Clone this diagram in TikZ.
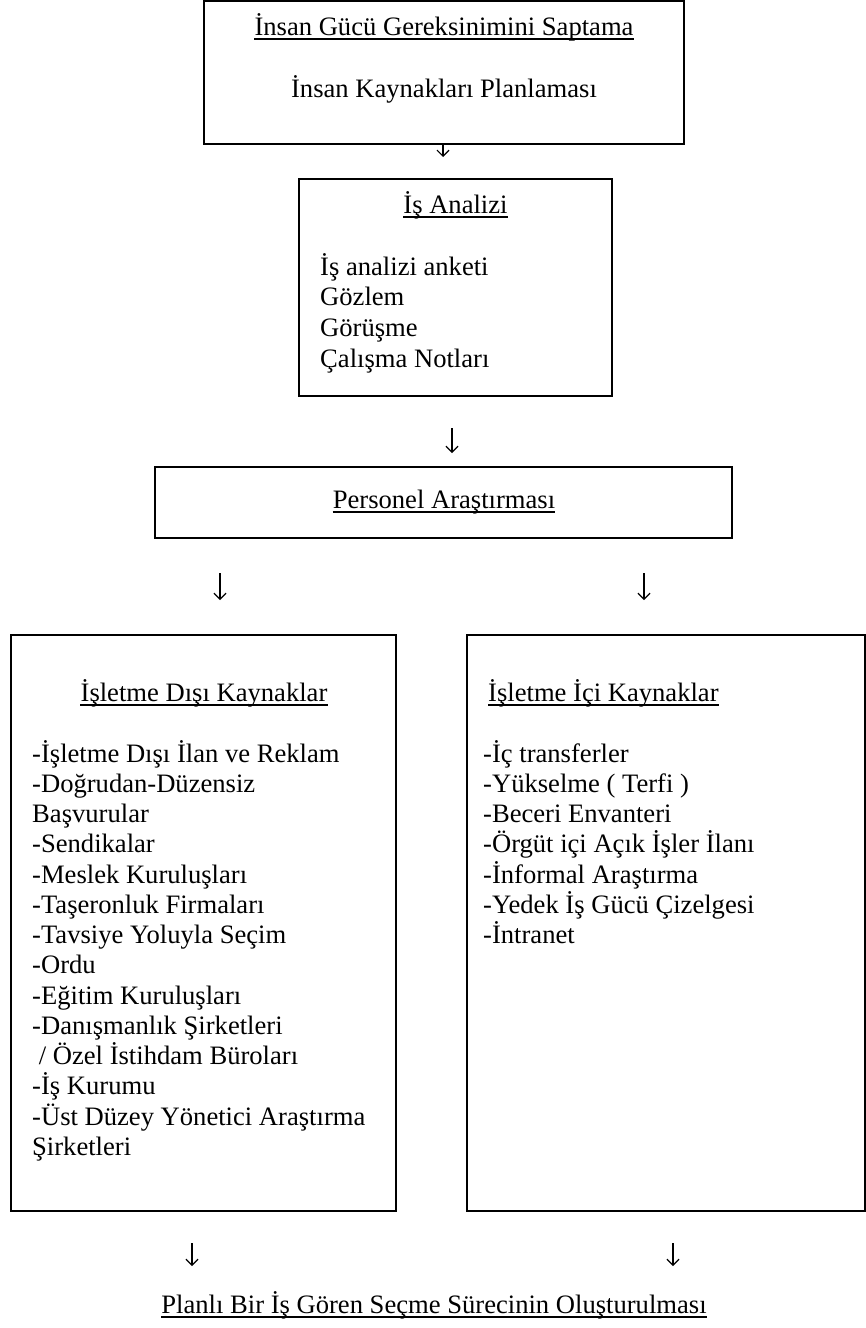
\documentclass[tikz,border=0pt]{standalone}
\usepackage{fontspec}
\setmainfont{Liberation Serif}
\usetikzlibrary{arrows.meta}
\begin{document}
\begin{tikzpicture}[x=1pt,y=-1pt,
  box/.style={draw, line width=1.5pt, inner sep=0pt},
  txt/.style={inner sep=0pt, anchor=base, font=\fontsize{26.6}{30.3}\selectfont},
  ltxt/.style={txt, anchor=base west},
  ul/.style={line width=1.3pt},
  arr/.style={line width=1.2pt, -{Straight Barb[length=6pt,width=12pt]}},
]
\useasboundingbox (0,0) rectangle (866,1328);

% boxes
\node[box, minimum width=480pt, minimum height=143pt] (b1) at (444,72.5) {};
\node[box, minimum width=313pt, minimum height=217pt] (b2) at (455.5,287.5) {};
\node[box, minimum width=577pt, minimum height=71pt] (b3) at (443.5,502.5) {};
\node[box, minimum width=385pt, minimum height=576pt] (b4) at (203.5,923) {};
\node[box, minimum width=398pt, minimum height=576pt] (b5) at (666,923) {};

% box 1
\node[txt] (t1) at (444,35) {İnsan Gücü Gereksinimini Saptama};
\draw[ul] ([yshift=-4pt]t1.base west) -- ([yshift=-4pt]t1.base east);
\node[txt] (t2) at (444,97) {İnsan Kaynakları Planlaması};

% box 2
\node[txt] (t3) at (455.5,213) {İş Analizi};
\draw[ul] ([yshift=-4pt]t3.base west) -- ([yshift=-4pt]t3.base east);
\foreach [count=\i] \t in {İş analizi anketi, Gözlem, Görüşme, Çalışma Notları}
  \node[ltxt] (m\i) at (320,{275+30.7*(\i-1)}) {\t};

% box 3
\node[txt] (t4) at (444,508) {Personel Araştırması};
\draw[ul] ([yshift=-4pt]t4.base west) -- ([yshift=-4pt]t4.base east);

% box 4
\node[txt] (t5) at (204,701) {İşletme Dışı Kaynaklar};
\draw[ul] ([yshift=-4pt]t5.base west) -- ([yshift=-4pt]t5.base east);
\foreach [count=\i] \t in {{-İşletme Dışı İlan ve Reklam}, {-Doğrudan-Düzensiz}, {Başvurular},
  {-Sendikalar}, {-Meslek Kuruluşları}, {-Taşeronluk Firmaları}, {-Tavsiye Yoluyla Seçim},
  {-Ordu}, {-Eğitim Kuruluşları}, {-Danışmanlık Şirketleri}, {\ / Özel İstihdam Büroları},
  {-İş Kurumu}, {-Üst Düzey Yönetici Araştırma}, {Şirketleri}}
  \node[ltxt] (l\i) at (32,{762+30.25*(\i-1)}) {\t};

% box 5
\node[ltxt] (t6) at (488,701) {İşletme İçi Kaynaklar};
\draw[ul] ([yshift=-4pt]t6.base west) -- ([yshift=-4pt]t6.base east);
\foreach [count=\i] \t in {{-İç transferler}, {-Yükselme ( Terfi )}, {-Beceri Envanteri},
  {-Örgüt içi Açık İşler İlanı}, {-İnformal Araştırma}, {-Yedek İş Gücü Çizelgesi}, {-İntranet}}
  \node[ltxt] (r\i) at (483,{762+30.25*(\i-1)}) {\t};

% final text
\node[txt] (t7) at (434,1313) {Planlı Bir İş Gören Seçme Sürecinin Oluşturulması};
\draw[ul] ([yshift=-4pt]t7.base west) -- ([yshift=-4pt]t7.base east);

% arrows
\coordinate (a1s) at (443,145);  \coordinate (a1e) at (443,157);
\coordinate (a2s) at (452,428);  \coordinate (a2e) at (452,453);
\coordinate (a3s) at (220,573);  \coordinate (a3e) at (220,600);
\coordinate (a4s) at (644,573);  \coordinate (a4e) at (644,600);
\coordinate (a5s) at (192,1243); \coordinate (a5e) at (192,1266);
\coordinate (a6s) at (673,1243); \coordinate (a6e) at (673,1266);
\draw[arr] (a1s) -- (a1e);
\draw[arr] (a2s) -- (a2e);
\draw[arr] (a3s) -- (a3e);
\draw[arr] (a4s) -- (a4e);
\draw[arr] (a5s) -- (a5e);
\draw[arr] (a6s) -- (a6e);
\end{tikzpicture}
\end{document}
